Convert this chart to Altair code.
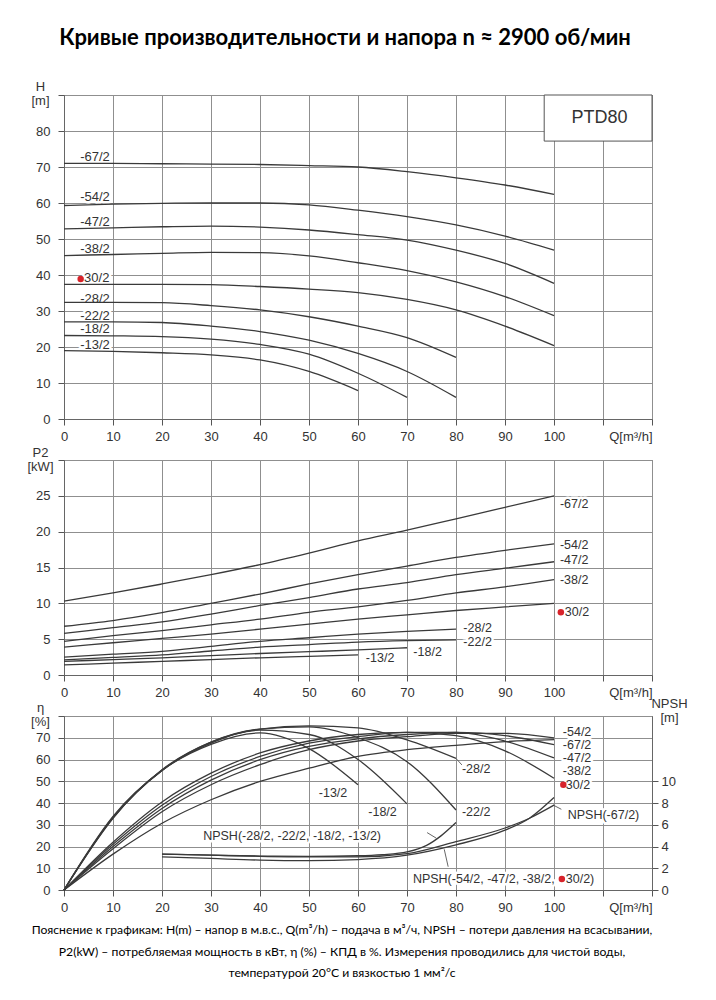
import altair as alt
import pandas as pd

FONT = "Liberation Sans"
INK = "#333333"
CURVE = "#3a3a3a"
GRID = "#8f8f8f"
RED = "#d8232a"

TITLE = "Кривые производительности и напора n ≈ 2900 об/мин"
NOTE = [
    "Пояснение к графикам: H(m) – напор в м.в.с., Q(m³/h) – подача в м³/ч, NPSH – потери давления на всасывании,",
    "P2(kW) – потребляемая мощность в кВт, η (%) – КПД в %. Измерения проводились для чистой воды,",
    "температурой 20°C и вязкостью 1 мм²/с",
]

# flow points
q_100 = [0, 10, 20, 30, 40, 50, 60, 70, 80, 90, 100]
q_80 = q_100[:9]
q_70 = q_100[:8]
q_60 = q_100[:7]

series_names = ["-67/2", "-54/2", "-47/2", "-38/2", "30/2", "-28/2", "-22/2", "-18/2", "-13/2"]
series_q = [q_100, q_100, q_100, q_100, q_100, q_80, q_80, q_70, q_60]

# head H [m]
h_67 = [71.0, 71.0, 70.9, 70.8, 70.7, 70.4, 70.0, 68.7, 67.0, 65.0, 62.4]
h_54 = [59.3, 59.7, 59.9, 60.0, 60.0, 59.5, 58.0, 56.2, 53.9, 50.8, 46.9]
h_47 = [52.8, 53.1, 53.4, 53.6, 53.3, 52.5, 51.2, 49.7, 46.9, 43.2, 37.7]
h_38 = [45.4, 45.7, 46.0, 46.3, 46.2, 45.3, 43.4, 41.2, 38.1, 34.0, 28.7]
h_30 = [37.4, 37.4, 37.4, 37.3, 36.8, 36.1, 35.1, 33.2, 30.3, 25.8, 20.4]
h_28 = [32.4, 32.4, 32.3, 31.5, 30.3, 28.4, 25.8, 22.6, 17.1]
h_22 = [27.0, 27.0, 26.8, 25.8, 24.3, 21.9, 18.2, 13.2, 6.0]
h_18 = [23.2, 23.1, 22.9, 22.2, 20.7, 18.0, 12.7, 6.0]
h_13 = [19.0, 18.8, 18.4, 17.8, 16.4, 13.2, 7.9]
head = [h_67, h_54, h_47, h_38, h_30, h_28, h_22, h_18, h_13]

# power P2 [kW]
p_67 = [10.3, 11.45, 12.7, 14.0, 15.4, 17.0, 18.7, 20.2, 21.8, 23.4, 25.0]
p_54 = [6.8, 7.6, 8.7, 10.0, 11.3, 12.7, 14.0, 15.2, 16.4, 17.4, 18.3]
p_47 = [5.8, 6.6, 7.4, 8.5, 9.7, 10.8, 12.0, 12.9, 14.0, 14.9, 15.8]
p_38 = [4.7, 5.5, 6.2, 7.0, 7.8, 8.75, 9.5, 10.4, 11.45, 12.3, 13.3]
p_30 = [3.9, 4.5, 5.1, 5.7, 6.4, 7.1, 7.8, 8.4, 9.0, 9.5, 10.0]
p_28 = [2.5, 2.9, 3.3, 4.0, 4.7, 5.2, 5.7, 6.1, 6.4]
p_22 = [2.1, 2.45, 2.8, 3.35, 3.9, 4.25, 4.6, 4.8, 4.9]
p_18 = [1.9, 2.15, 2.4, 2.7, 3.0, 3.25, 3.5, 3.8]
p_13 = [1.4, 1.65, 1.9, 2.15, 2.4, 2.6, 2.8]
power = [p_67, p_54, p_47, p_38, p_30, p_28, p_22, p_18, p_13]

# efficiency eta [%]
e_67 = [0, 16.5, 30.7, 41.5, 49.9, 56.0, 61.4, 64.5, 66.5, 68.2, 69.1]
e_54 = [0, 19.0, 36.0, 48.4, 57.6, 64.5, 68.5, 70.5, 72.0, 72.0, 69.9]
e_47 = [0, 20.0, 37.5, 50.5, 59.9, 66.0, 69.5, 71.5, 72.5, 71.0, 66.8]
e_38 = [0, 21.0, 39.0, 52.2, 61.4, 67.5, 70.5, 72.5, 72.5, 68.5, 60.7]
e_30 = [0, 22.0, 40.5, 53.7, 63.0, 68.5, 71.5, 72.5, 71.0, 64.0, 51.4]
e_28 = [0, 33.0, 55.3, 68.0, 74.0, 75.5, 74.5, 69.0, 60.5]
e_22 = [0, 33.2, 55.0, 68.0, 74.0, 75.0, 70.0, 59.0, 36.8]
e_18 = [0, 33.5, 55.0, 67.5, 73.5, 71.5, 60.0, 39.6]
e_13 = [0, 33.8, 55.0, 67.0, 72.2, 65.0, 48.4]
eff = [e_67, e_54, e_47, e_38, e_30, e_28, e_22, e_18, e_13]

# NPSH [m]
npsh_names = ["NPSH small", "NPSH big", "NPSH -67/2"]
npsh_small_q = [20, 30, 40, 50, 60, 65, 70, 74, 77, 80]
npsh_small = [3.3, 3.2, 3.12, 3.1, 3.15, 3.25, 3.5, 4.1, 5.0, 6.2]
npsh_big_q = [20, 30, 40, 50, 60, 70, 80, 90, 95, 100]
npsh_big = [3.05, 2.9, 2.75, 2.7, 2.8, 3.2, 4.15, 5.5, 6.6, 8.5]
npsh_67_q = [20, 30, 40, 50, 60, 70, 80, 90, 95, 100]
npsh_67 = [3.3, 3.2, 3.1, 3.05, 3.05, 3.35, 4.45, 5.7, 6.6, 7.8]

# curve labels
h_lab_q = [3.3, 3.3, 3.3, 3.3, 4.1, 3.3, 3.3, 3.3, 3.3]
h_lab_v = [72.8, 61.6, 54.6, 47.1, 39.1, 33.4, 28.6, 25.0, 20.6]
h_dot = ([3.4], [38.9])

p_lab_q = [101.2, 101.2, 101.2, 101.2, 102.2, 81.5, 81.5, 71.3, 61.6]
p_lab_v = [23.8, 18.2, 16.0, 13.2, 8.75, 6.5, 4.6, 3.25, 2.4]
p_dot = ([101.4], [8.75])

e_lab_text = ["-54/2", "-67/2", "-47/2", "-38/2", "30/2", "-28/2", "-22/2", "-18/2", "-13/2",
              "NPSH(-28/2, -22/2, -18/2, -13/2)", "NPSH(-67/2)", "NPSH(-54/2, -47/2, -38/2,", "30/2)"]
e_lab_q = [101.8, 101.8, 101.8, 101.8, 102.4, 81.2, 81.2, 62.1, 52.0, 28.4, 102.8, 71.2, 102.4]
e_lab_v = [72.8, 66.8, 60.8, 54.6, 48.4, 55.5, 35.8, 35.7, 44.7, 25.0, 34.6, 5.1, 5.1]
e_dot = ([101.9, 101.6], [48.4, 5.1])

# leader lines in the efficiency panel (Q, eta)
lead_q1 = [80.0, 99.8, 74.1, 77.6]
lead_v1 = [60.5, 39.1, 26.4, 18.7]
lead_q2 = [81.2, 101.5, 76.0, 78.4]
lead_v2 = [57.5, 37.1, 23.8, 10.7]

model_box = {"q": [98.0], "q2": [120.0], "v": [77.2], "v2": [90.0], "text": ["PTD80"], "tq": [109.3], "tv": [83.7]}


def long(values_list, q_list, names):
    rows = []
    for name, qs, vs in zip(names, q_list, values_list):
        for q, v in zip(qs, vs):
            rows.append({"series": name, "q": q, "v": v})
    return pd.DataFrame(rows)


W = 588
H1, H2, H3 = 324, 215, 174

x_axis = alt.Axis(
    values=list(range(0, 121, 10)),
    labelExpr="datum.value == 120 ? 'Q[m³/h]' : (datum.value > 100 ? '' : datum.label)",
    labelAlign={"condition": {"test": "datum.value == 120", "value": "right"}, "value": "center"},
    labelFlush=False, labelOverlap=False, title=None, grid=True, labelPadding=5,
)
XS = alt.Scale(domain=[0, 120], nice=False, zero=False)


def y_axis(top, step, title, title_y):
    return alt.Axis(
        values=list(range(0, top + 1, step)),
        labelExpr=f"datum.value >= {top} ? '' : datum.label",
        labelOverlap=False, labelFlush=False, grid=True, labelPadding=8,
        title=title, titleAngle=0, titleX=-24, titleY=title_y, titleAlign="center",
        titleBaseline="bottom", titleLineHeight=14,
    )


def panel(curves, labels, dots, top, step, title, title_y, height, extra=None, label_size=13):
    ysc = alt.Scale(domain=[0, top], nice=False)
    yax = y_axis(top, step, title, title_y)
    X = alt.X("q:Q", scale=XS, axis=x_axis)
    Y = alt.Y("v:Q", scale=ysc, axis=yax)
    lines = alt.Chart(curves).mark_line(interpolate="monotone", color=CURVE, strokeWidth=1.3).encode(
        x=X, y=Y, detail="series:N")
    halo = alt.Chart(labels).mark_text(
        align="left", baseline="middle", fontSize=label_size, font=FONT,
        fill="white", stroke="white", strokeWidth=5, strokeJoin="round").encode(x=X, y=Y, text="text:N")
    txt = alt.Chart(labels).mark_text(
        align="left", baseline="middle", fontSize=label_size, font=FONT, color=INK).encode(x=X, y=Y, text="text:N")
    dot = alt.Chart(dots).mark_point(filled=True, color=RED, size=42, opacity=1).encode(x=X, y=Y)
    layers = [halo, lines] + (extra(X, Y, ysc, yax) if extra else []) + [txt, dot]
    return alt.layer(*layers).properties(width=W, height=height)


# ---------------- H panel
h_df = long(head, series_q, series_names)
h_lab = pd.DataFrame({"text": series_names, "q": h_lab_q, "v": h_lab_v})
h_dots = pd.DataFrame({"q": h_dot[0], "v": h_dot[1]})


def h_extra(X, Y, ysc, yax):
    box_df = pd.DataFrame(model_box)
    box = alt.Chart(box_df).mark_rect(fill="white", stroke="#555555", strokeWidth=1).encode(
        x=X, x2="q2:Q", y=Y, y2="v2:Q")
    btxt = alt.Chart(box_df).mark_text(fontSize=18, font=FONT, color=INK).encode(
        x=alt.X("tq:Q", scale=XS, axis=x_axis), y=alt.Y("tv:Q", scale=ysc, axis=yax), text="text:N")
    return [box, btxt]


c1 = panel(h_df, h_lab, h_dots, 90, 10, ["H", "[m]"], -2, H1, extra=h_extra)

# ---------------- P2 panel
p_df = long(power, series_q, series_names)
p_lab = pd.DataFrame({"text": series_names, "q": p_lab_q, "v": p_lab_v})
p_dots = pd.DataFrame({"q": p_dot[0], "v": p_dot[1]})
c2 = panel(p_df, p_lab, p_dots, 30, 5, ["P2", "[kW]"], -1, H2, label_size=12.5)

# ---------------- efficiency + NPSH panel
e_df = long(eff, series_q, series_names)
e_lab = pd.DataFrame({"text": e_lab_text, "q": e_lab_q, "v": e_lab_v})
e_dots = pd.DataFrame({"q": e_dot[0], "v": e_dot[1]})
lead_df = pd.DataFrame({"q": lead_q1, "v": lead_v1, "q2": lead_q2, "v2": lead_v2})


def e_extra(X, Y, ysc, yax):
    lead = alt.Chart(lead_df).mark_rule(color="#555555", strokeWidth=0.9).encode(
        x=X, x2="q2:Q", y=Y, y2="v2:Q")
    return [lead]


eta = panel(e_df, e_lab, e_dots, 80, 10, ["η", "[%]"], -2, H3, extra=e_extra, label_size=12.5)

n_df = long([npsh_small, npsh_big, npsh_67], [npsh_small_q, npsh_big_q, npsh_67_q], npsh_names)
npsh = alt.Chart(n_df).mark_line(interpolate="monotone", color=CURVE, strokeWidth=1.3).encode(
    x=alt.X("q:Q", scale=XS, axis=x_axis),
    y=alt.Y("v:Q", scale=alt.Scale(domain=[0, 16], nice=False),
            axis=alt.Axis(orient="right", values=[0, 2, 4, 6, 8, 10], grid=False, labelOverlap=False,
                          labelPadding=3,
                          title=["NPSH", "[m]"], titleAngle=0, titleX=17, titleY=-6,
                          titleAlign="center", titleBaseline="bottom", titleLineHeight=14)),
    detail="series:N")

c3 = alt.layer(eta, npsh).resolve_scale(y="independent").properties(
    width=W, height=H3,
    title=alt.Title(NOTE, orient="bottom", anchor="middle", font="Lato", fontSize=12.2,
                    fontWeight="normal", color="black", lineHeight=21.5, offset=10, dx=-16))

chart = alt.vconcat(c1, c2, c3, spacing=41, bounds="flush").properties(
    title=alt.Title(TITLE, font="Lato", fontSize=22, fontWeight="bold", color="black",
                    anchor="middle", offset=30, dx=-12),
    padding={"left": 18, "top": 18, "right": 5, "bottom": 5},
).configure_view(stroke="#666666").configure_axis(
    labelFont=FONT, labelFontSize=13, labelColor=INK, titleFont=FONT, titleFontSize=13,
    titleFontWeight="normal", titleColor=INK, tickSize=6, tickColor="#555555",
    domainColor="#666666", gridColor=GRID, gridWidth=1,
)

chart.save("out.html", embed_options={"renderer": "svg", "actions": False})
